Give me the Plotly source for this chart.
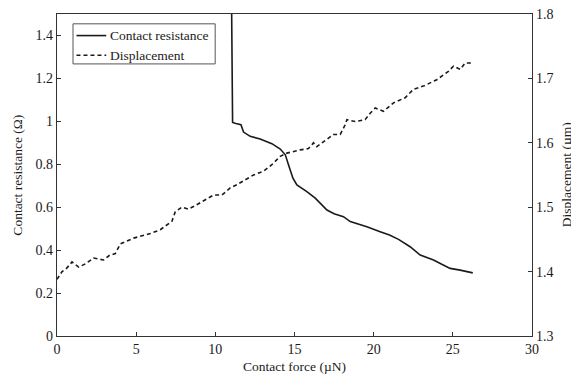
import plotly.graph_objects as go

# Contact resistance (Ohm) vs contact force (uN)
res_force = [11.02, 11.04, 11.08, 11.09, 11.3, 11.62, 11.78, 12.2, 12.83, 13.57, 14.1, 14.42, 14.62,
             14.9, 15.15, 15.78, 16.31, 16.62, 17.05, 17.5, 18.09, 18.52, 19.0, 19.57, 20.41,
             21.0, 21.57, 22.3, 22.94, 23.78, 24.3, 24.83, 25.46, 26.26]
resistance = [1.6, 1.2, 1.0, 0.995, 0.99, 0.984, 0.95, 0.93, 0.918, 0.896, 0.871, 0.844, 0.798,
              0.735, 0.704, 0.673, 0.642, 0.619, 0.587, 0.570, 0.556, 0.533, 0.522, 0.509, 0.486,
              0.470, 0.450, 0.416, 0.377, 0.354, 0.334, 0.315, 0.307, 0.294]

# Displacement (um) vs contact force (uN)
disp_force = [0.0, 0.32, 0.6, 0.95, 1.37, 1.79, 2.31, 2.94, 3.3, 3.68, 4.0, 4.84, 5.89, 6.52,
              7.26, 7.47, 7.89, 8.3, 8.62, 9.05, 9.57, 9.89, 10.42, 10.94, 11.36, 11.89, 12.41,
              13.04, 13.57, 14.1, 14.52, 15.36, 15.88, 16.1, 16.2, 16.41, 16.83, 17.46, 17.89,
              18.2, 18.31, 18.83, 19.46, 19.78, 20.1, 20.62, 21.25, 21.99, 22.51, 23.14, 23.99,
              24.72, 25.04, 25.46, 25.78, 26.26]
displacement = [1.388, 1.400, 1.405, 1.415, 1.407, 1.412, 1.421, 1.418, 1.425, 1.428, 1.443,
                1.452, 1.459, 1.465, 1.478, 1.493, 1.500, 1.497, 1.501, 1.507, 1.515, 1.519,
                1.519, 1.530, 1.535, 1.543, 1.550, 1.556, 1.566, 1.579, 1.584, 1.589, 1.591,
                1.597, 1.600, 1.594, 1.602, 1.613, 1.613, 1.628, 1.636, 1.633, 1.636, 1.646,
                1.654, 1.649, 1.662, 1.670, 1.683, 1.688, 1.698, 1.711, 1.719, 1.714, 1.724, 1.724]

x_ticks = [0, 5, 10, 15, 20, 25, 30]
y_left_ticks = [0, 0.2, 0.4, 0.6, 0.8, 1, 1.2, 1.4]
y_left_labels = ["0", "0.2", "0.4", "0.6", "0.8", "1", "1.2", "1.4"]
y_right_ticks = [1.3, 1.4, 1.5, 1.6, 1.7, 1.8]
y_right_labels = ["1.3", "1.4", "1.5", "1.6", "1.7", "1.8"]
series_names = ["Contact resistance", "Displacement"]
x_title = "Contact force (µN)"
y_left_title = "Contact resistance (Ω)"
y_right_title = "Displacement (µm)"

FONT = "Liberation Serif"
INK = "#1a1a1a"

fig = go.Figure()
fig.add_trace(go.Scatter(x=res_force, y=resistance, mode="lines", name=series_names[0],
                         line=dict(color=INK, width=1.6), yaxis="y", showlegend=False))
fig.add_trace(go.Scatter(x=disp_force, y=displacement, mode="lines", name=series_names[1],
                         line=dict(color=INK, width=1.6, dash="4px,3px"), yaxis="y2",
                         showlegend=False))

axis_common = dict(showline=True, linecolor="#333333", linewidth=1.2, ticks="inside",
                   ticklen=4, tickcolor="#333333", showgrid=False, zeroline=False,
                   automargin=False, ticklabeloverflow="allow",
                   tickfont=dict(family=FONT, size=14, color=INK))

# Legend drawn as a framed box (paper coordinates)
shapes = [
    dict(type="rect", xref="paper", yref="paper", x0=0.0337, x1=0.333, y0=0.845, y1=0.9695,
         line=dict(color="#555555", width=1), fillcolor="white", layer="above"),
    dict(type="line", xref="paper", yref="paper", x0=0.041, x1=0.1037, y0=0.933, y1=0.933,
         line=dict(color=INK, width=1.6), layer="above"),
    dict(type="line", xref="paper", yref="paper", x0=0.041, x1=0.1037, y0=0.872, y1=0.872,
         line=dict(color=INK, width=1.6, dash="4px,3px"), layer="above"),
]
annotations = [
    dict(text=series_names[0], xref="paper", yref="paper", x=0.107, y=0.933, xanchor="left",
         yanchor="middle", showarrow=False, font=dict(family=FONT, size=13.5, color=INK)),
    dict(text=series_names[1], xref="paper", yref="paper", x=0.107, y=0.872, xanchor="left",
         yanchor="middle", showarrow=False, font=dict(family=FONT, size=13.5, color=INK)),
    dict(text=x_title, xref="paper", yref="paper", x=0.5, y=-0.094, xanchor="center",
         yanchor="middle", showarrow=False, font=dict(family=FONT, size=13.5, color=INK)),
    dict(text=y_left_title, xref="paper", yref="paper", x=-0.085, y=0.5, xanchor="center",
         yanchor="middle", textangle=-90, showarrow=False,
         font=dict(family=FONT, size=13.5, color=INK)),
    dict(text=y_right_title, xref="paper", yref="paper", x=1.072, y=0.5, xanchor="center",
         yanchor="middle", textangle=-90, showarrow=False,
         font=dict(family=FONT, size=13.5, color=INK)),
]

# The page body adds an 8px offset; figure size compensates so the plot sits as in the reference
fig.update_layout(
    width=571, height=370,
    margin=dict(l=49, r=47, t=6, b=42),
    paper_bgcolor="white", plot_bgcolor="white",
    font=dict(family=FONT, size=13, color=INK),
    showlegend=False,
    shapes=shapes,
    annotations=annotations,
    xaxis=dict(range=[0, 30], tickvals=x_ticks, ticktext=[str(v) for v in x_ticks],
               mirror=True, **axis_common),
    yaxis=dict(range=[0, 1.5], tickvals=y_left_ticks, ticktext=y_left_labels, **axis_common),
    yaxis2=dict(range=[1.3, 1.8], tickvals=y_right_ticks, ticktext=y_right_labels,
                overlaying="y", side="right", **axis_common),
)

fig.write_html("out.html")
